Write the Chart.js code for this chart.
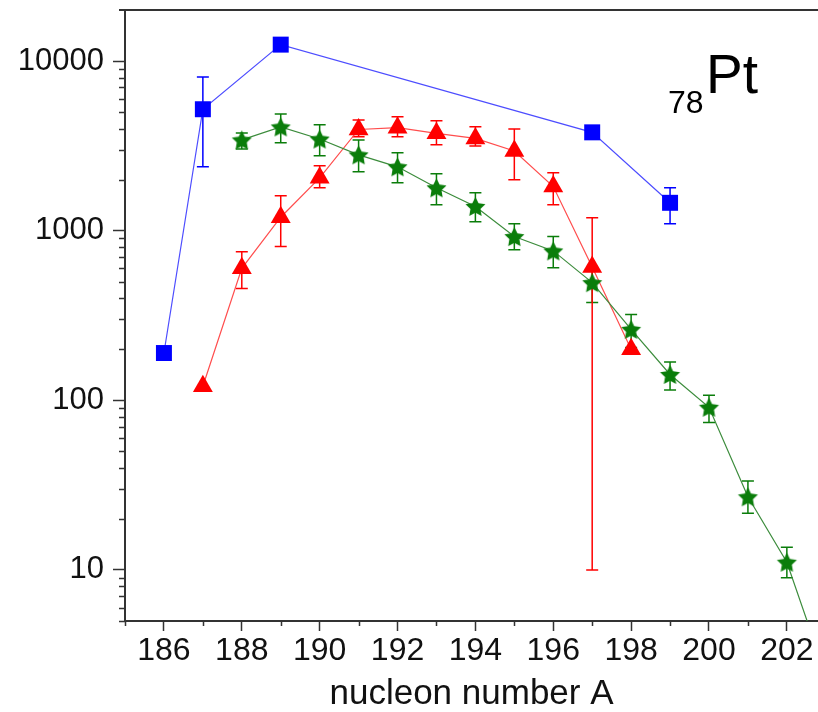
<!DOCTYPE html>
<html>
<head>
<meta charset="utf-8">
<script src="https://cdn.jsdelivr.net/npm/chart.js@4"></script>
<style>
  body { margin: 0; background: #fff; }
</style>
</head>
<body>
<canvas id="chart" width="818" height="712"></canvas>
<script>
// yields vs nucleon number A for 78Pt, three data sets
const blueA = [186, 187, 189, 197, 199];
const blueY = [190, 5200, 12500, 3800, 1460];
const blueHi = [null, 8050, null, null, 1790];
const blueLo = [null, 2380, null, null, 1100];

const redA = [187, 188, 189, 190, 191, 192, 193, 194, 195, 196, 197, 198];
const redY = [121, 600, 1200, 2050, 3950, 4050, 3750, 3500, 2950, 1820, 610, 200];
const redHi = [null, 751, 1607, 2411, 4500, 4690, 4440, 4093, 3981, 2193, 1190, null];
const redLo = [null, 456, 806, 1790, 3575, 3575, 3208, 3162, 1995, 1423, 10, null];

const greenA = [188, 189, 190, 191, 192, 193, 194, 195, 196, 197, 198, 199, 200, 201, 202, 203];
const greenY = [3430, 4090, 3470, 2800, 2380, 1790, 1390, 923, 760, 494, 262, 142, 91, 27, 11.1, 2.4];
const greenHi = [3770, 4875, 4210, 3428, 2878, 2163, 1675, 1100, 923, 605, 321, 168, 107, 33.4, 13.6, null];
const greenLo = [3035, 3296, 2763, 2222, 1915, 1423, 1130, 773, 605, 377, 205, 115, 74, 21.6, 9.0, null];

const xTicks = [186, 188, 190, 192, 194, 196, 198, 200, 202];
const xMinor = [185, 187, 189, 191, 193, 195, 197, 199, 201];
const yTicks = [10, 100, 1000, 10000];
const yMinor = [5, 6, 7, 8, 9, 20, 30, 40, 50, 60, 70, 80, 90,
  200, 300, 400, 500, 600, 700, 800, 900,
  2000, 3000, 4000, 5000, 6000, 7000, 8000, 9000];

const FONT = "'Liberation Sans', Arial, sans-serif";
const AXIS = '#333';

function toPoints(xs, ys) {
  return xs.map((a, i) => ({ x: a, y: ys[i] }));
}

function starImage(r, color) {
  const c = document.createElement('canvas');
  const s = Math.ceil(r * 2 + 2);
  c.width = s; c.height = s;
  const g = c.getContext('2d');
  g.fillStyle = color;
  g.beginPath();
  for (let i = 0; i < 10; i++) {
    const rr = i % 2 ? r * 0.5 : r;
    const a = -Math.PI / 2 + i * Math.PI / 5;
    const px = s / 2 + rr * Math.cos(a);
    const py = s / 2 + 1 + rr * Math.sin(a);
    if (i) g.lineTo(px, py); else g.moveTo(px, py);
  }
  g.closePath();
  g.fill();
  return c;
}

const errorSets = [
  { xs: greenA, hi: greenHi, lo: greenLo, color: '#0a7d0a' },
  { xs: redA, hi: redHi, lo: redLo, color: '#ff0000' },
  { xs: blueA, hi: blueHi, lo: blueLo, color: '#0000ff' }
];

const extras = {
  id: 'extras',
  beforeDatasetsDraw(chart) {
    const { ctx, chartArea, scales: { x, y } } = chart;
    ctx.save();
    ctx.beginPath();
    ctx.rect(chartArea.left, chartArea.top, chartArea.right - chartArea.left, chartArea.bottom - chartArea.top);
    ctx.clip();
    ctx.lineWidth = 1.5;
    errorSets.forEach(s => {
      ctx.strokeStyle = s.color;
      s.xs.forEach((a, i) => {
        if (s.hi[i] == null) return;
        const px = x.getPixelForValue(a);
        const top = y.getPixelForValue(s.hi[i]);
        const bot = y.getPixelForValue(s.lo[i]);
        ctx.beginPath();
        ctx.moveTo(px, top); ctx.lineTo(px, bot);
        ctx.moveTo(px - 6, top); ctx.lineTo(px + 6, top);
        ctx.moveTo(px - 6, bot); ctx.lineTo(px + 6, bot);
        ctx.stroke();
      });
    });
    ctx.restore();
  },
  afterDraw(chart) {
    const { ctx, chartArea, scales: { x, y } } = chart;
    ctx.save();
    ctx.strokeStyle = AXIS;
    ctx.lineWidth = 1.5;
    ctx.beginPath();
    yMinor.forEach(v => {
      const py = Math.round(y.getPixelForValue(v)) + 0.5;
      ctx.moveTo(chartArea.left - 6, py); ctx.lineTo(chartArea.left, py);
    });
    xMinor.forEach(v => {
      const px = Math.round(x.getPixelForValue(v)) + 0.5;
      ctx.moveTo(px, chartArea.bottom); ctx.lineTo(px, chartArea.bottom + 5);
    });
    ctx.stroke();
    // top frame line
    ctx.lineWidth = 2;
    ctx.beginPath();
    ctx.moveTo(chartArea.left - 6, chartArea.top);
    ctx.lineTo(chartArea.right, chartArea.top);
    ctx.stroke();

    // element label
    ctx.fillStyle = '#000';
    ctx.textBaseline = 'alphabetic';
    ctx.font = '32px ' + FONT;
    ctx.fillText('78', 668, 113);
    ctx.font = '55px ' + FONT;
    ctx.fillText('Pt', 706, 93);
    ctx.restore();
  }
};

new Chart(document.getElementById('chart'), {
  type: 'scatter',
  data: {
    datasets: [
      {
        label: 'green',
        data: toPoints(greenA, greenY),
        showLine: true,
        borderColor: '#3c8c3c',
        borderWidth: 1.2,
        pointStyle: starImage(10.5, '#0a7d0a'),
        pointRadius: 10
      },
      {
        label: 'red',
        data: toPoints(redA, redY),
        showLine: true,
        borderColor: '#ff4d4d',
        borderWidth: 1.2,
        pointStyle: 'triangle',
        pointRadius: 11.5,
        pointBackgroundColor: '#ff0000',
        pointBorderColor: '#ff0000',
        pointBorderWidth: 0
      },
      {
        label: 'blue',
        data: toPoints(blueA, blueY),
        showLine: true,
        borderColor: '#4d4dff',
        borderWidth: 1.2,
        pointStyle: 'rect',
        pointRadius: 11.3,
        pointBackgroundColor: '#0000ff',
        pointBorderColor: '#0000ff',
        pointBorderWidth: 0
      }
    ]
  },
  options: {
    responsive: false,
    animation: false,
    layout: { autoPadding: false, padding: { top: 10, right: 0, bottom: 0, left: 0 } },
    plugins: {
      legend: { display: false },
      tooltip: { enabled: false }
    },
    scales: {
      x: {
        type: 'linear',
        min: 185,
        max: 202.8,
        afterBuildTicks: s => { s.ticks = xTicks.map(v => ({ value: v })); },
        afterFit: s => { s.height = 91; s.paddingLeft = 0; s.paddingRight = 0; },
        grid: { drawOnChartArea: false, tickLength: 10, tickColor: AXIS, tickWidth: 1.5 },
        border: { color: AXIS, width: 2 },
        ticks: {
          color: '#111',
          padding: 4,
          maxRotation: 0,
          font: { family: FONT, size: 32, lineHeight: 1 },
          callback: v => String(v)
        },
        title: {
          display: true,
          text: 'nucleon number A',
          color: '#111',
          padding: 0,
          font: { family: FONT, size: 35, lineHeight: 1 }
        }
      },
      y: {
        type: 'logarithmic',
        min: 5,
        max: 20000,
        afterBuildTicks: s => { s.ticks = yTicks.map(v => ({ value: v })); },
        afterFit: s => { s.width = 125; s.paddingTop = 0; s.paddingBottom = 0; },
        grid: { drawOnChartArea: false, tickLength: 12, tickColor: AXIS, tickWidth: 1.5 },
        border: { color: AXIS, width: 2 },
        ticks: {
          color: '#111',
          padding: 9,
          font: { family: FONT, size: 31, lineHeight: 1 },
          callback: v => String(v)
        }
      }
    }
  },
  plugins: [extras]
});
</script>
</body>
</html>
